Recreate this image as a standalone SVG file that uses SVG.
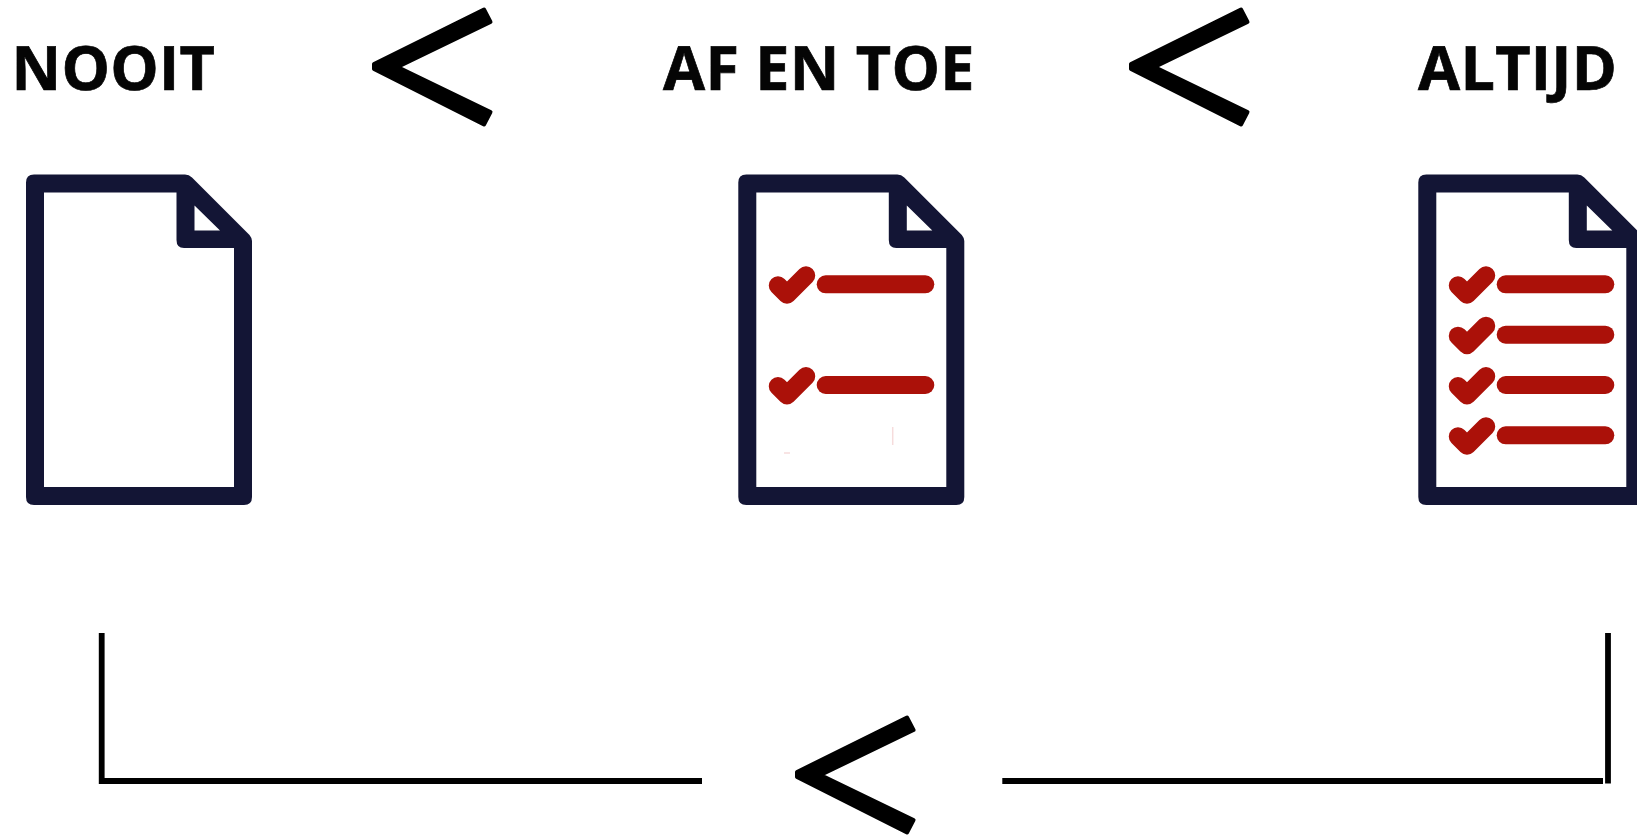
<svg xmlns="http://www.w3.org/2000/svg" width="1637" height="836" viewBox="0 0 1637 836">
<style>
.label{font-family:"Open Sans","Noto Sans","Liberation Sans",sans-serif;font-weight:700;font-size:61px;letter-spacing:.3px;fill:#050505;stroke:#050505;stroke-width:.7;text-rendering:geometricPrecision}
.page{fill:#131535;fill-rule:evenodd}
.item{fill:none;stroke:#ab1109;stroke-linecap:round;stroke-linejoin:round}
.chev{fill:#000;stroke:#000;stroke-width:4;stroke-linejoin:round}
.wire{fill:none;stroke:#000;stroke-width:5.800}
</style>
<defs>
<path id="doc" class="page" d="M34 174.500H185Q189 174.500 192 177.500L249.500 235Q252 238 252 241V497Q252 505 244 505H34Q26 505 26 497V182.500Q26 174.500 34 174.500ZM44 192.500V487H234V248H184Q176.500 248 176.500 240V192.500ZM194.500 205.500V230.500H220Z"/>
<g id="check"><path class="item" stroke-width="18.500" d="M778 285.500L787 294.500L806 275.500"/><path class="item" stroke-width="18" d="M825.700 284.300H925.300"/></g>
<polygon id="chevron" class="chev" points="484,9.500 490.500,22 397.500,67 490.500,112 484,124.500 374,69 374,64"/>
</defs>
<rect width="1637" height="836" fill="#fff"/>
<g id="connectors">
<path class="wire" d="M101.700 633V781H702"/>
<path class="wire" d="M1002.300 781H1603"/>
<path class="wire" d="M1608 633V783.500"/>
</g>
<g id="label-nooit"><text class="label" x="11.500" y="90">NOOIT</text></g>
<g id="label-af-en-toe"><text class="label" x="663" y="90">AF EN TOE</text></g>
<g id="label-altijd"><text class="label" x="1418" y="90">ALTIJD</text></g>
<g id="chevron-1"><use href="#chevron"/></g>
<g id="chevron-2"><use href="#chevron" x="757"/></g>
<g id="chevron-3"><use href="#chevron" x="423" y="708"/></g>
<g id="doc-empty"><use href="#doc"/></g>
<g id="doc-half"><use href="#doc" x="712.300"/>
<use href="#check"/><use href="#check" y="100.700"/>
<path d="M892.700 427V445M784 453H790" fill="none" stroke="#f6dcdc" stroke-width="1.500"/>
</g>
<g id="doc-full"><use href="#doc" x="1392.300"/>
<use href="#check" x="680"/><use href="#check" x="680" y="50.400"/><use href="#check" x="680" y="100.700"/><use href="#check" x="680" y="151"/>
</g>
</svg>
